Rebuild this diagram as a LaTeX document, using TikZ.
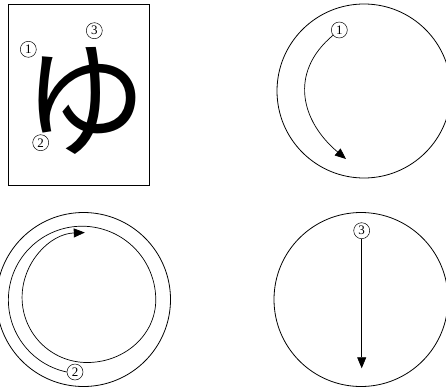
\documentclass[tikz,border=0pt]{standalone}
\usepackage{fontspec}
\setmainfont{Liberation Serif}
\newfontfamily\jpfont{Noto Sans CJK JP}
\usetikzlibrary{arrows.meta}

\begin{document}
\begin{tikzpicture}[x=1pt, y=1pt,
  num/.style={draw, circle, line width=0.5pt, minimum size=16pt, inner sep=0pt, font=\fontsize{13}{13}\selectfont},
  ring/.style={line width=0.8pt},
  arr/.style={line width=0.7pt, -{Triangle[length=11pt,width=9pt]}}]
  \useasboundingbox (0,0) rectangle (446,389);
  \clip (0,0) rectangle (446,389);

  % the character
  \draw[line width=0.8pt] (8,204) rectangle (149,385);
  \node[font=\jpfont\fontsize{125}{125}\selectfont] (kana) at (85,288) {ゆ};
  \node[num] (k1) at (28.3,339.7) {1};
  \node[num] (k2) at (40.7,246.3) {2};
  \node[num] (k3) at (94.3,358.3) {3};

  % stroke 1
  \draw[ring] (364,298) circle (87);
  \node[num] (s1) at (339.3,359) {1};
  \coordinate (e1) at (346,230);
  \draw[arr] (s1) to[out=220, in=140, looseness=1.2] (e1);

  % stroke 2
  \draw[ring] (83.5,89.5) circle (87);
  \node[num] (s2) at (75,17) {2};
  \draw[arr] (s2.west) arc[start angle=258, end angle=0, radius=73.7pt]
    arc[start angle=0, end angle=-90, x radius=68.7pt, y radius=62.6pt]
    arc[start angle=-90, end angle=-268, radius=65pt];

  % stroke 3
  \draw[ring] (361,89.5) circle (87);
  \node[num] (s3) at (361.7,158.3) {3};
  \coordinate (e3) at (361.7,20.7);
  \draw[arr] (s3) -- (e3);
\end{tikzpicture}
\end{document}
